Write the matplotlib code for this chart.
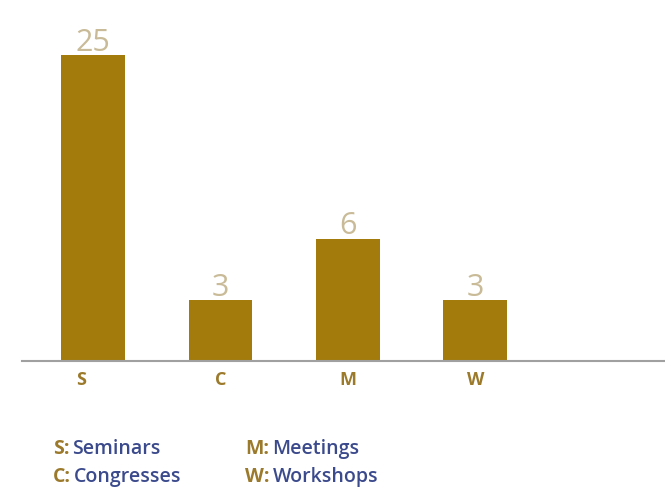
import matplotlib
matplotlib.use("Agg")
import matplotlib.pyplot as plt
from matplotlib.transforms import ScaledTranslation

categories = ["S", "C", "M", "W"]
value_labels = [25, 3, 6, 3]
# bar heights as drawn in the picture (the S bar is visually truncated)
bar_heights = [15, 3, 6, 3]
legend_keys = ["S", "C", "M", "W"]
legend_names = ["Seminars", "Congresses", "Meetings", "Workshops"]

bar_color = "#A27B0C"
value_color = "#C9BB98"
cat_color = "#9C7A2C"
name_color = "#3B4A8C"
font = ["Open Sans", "DejaVu Sans"]

fig = plt.figure(figsize=(6.65, 4.95), dpi=100)
ax = fig.add_axes([22 / 665, 134 / 495, 643 / 665, 347 / 495])
x = list(range(len(categories)))
ax.bar(x, bar_heights, width=0.5, color=bar_color)
ax.set_xlim(-0.56, 4.49)
ax.set_ylim(0, 17)
for s in ["top", "right", "left"]:
    ax.spines[s].set_visible(False)
ax.spines["bottom"].set_color("#A0A0A0")
ax.spines["bottom"].set_linewidth(1.5)
ax.set_yticks([])
ax.set_xticks(x)
ax.set_xticklabels(categories, fontsize=13, fontweight="bold", color=cat_color, family=font)
ax.tick_params(axis="x", length=0, pad=7)
lbl0 = ax.get_xticklabels()[0]
lbl0.set_transform(lbl0.get_transform() + ScaledTranslation(-12 / 100, 0, fig.dpi_scale_trans))
for xi, h, v in zip(x, bar_heights, value_labels):
    ax.annotate(str(v), (xi, h), xytext=(0, 3), textcoords="offset points",
                ha="center", va="baseline", fontsize=22, color=value_color, family=font)

# legend text block
pos = [(53, 449), (53, 477), (245, 449), (245, 477)]
for (px, py), k, n in zip(pos, legend_keys, legend_names):
    t = fig.text(px / 665, 1 - py / 495, k + ":", fontsize=14, fontweight="bold",
                 color=cat_color, family=font, va="center", ha="left")
    fig.canvas.draw()
    bb = t.get_window_extent()
    fig.text((bb.x1 + 3) / 665, 1 - py / 495, n, fontsize=14, fontweight="semibold",
             color=name_color, family=font, va="center", ha="left")

fig.savefig("out.png", dpi=100)
